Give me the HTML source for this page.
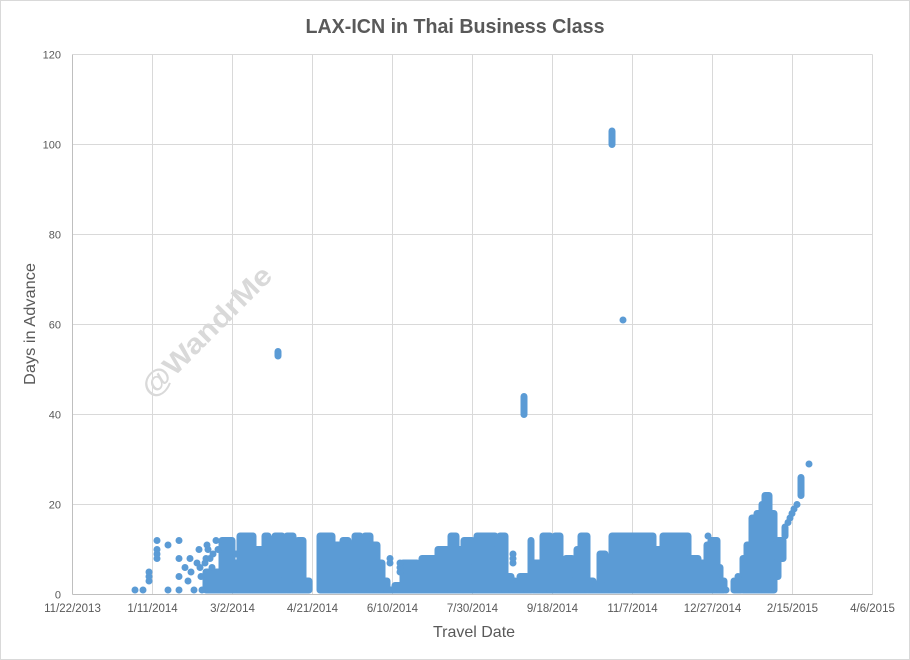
<!DOCTYPE html>
<html>
<head>
<meta charset="utf-8">
<style>
html,body{margin:0;padding:0;background:#fff;}
svg{display:block;}
text{font-family:"Liberation Sans",sans-serif;}
</style>
</head>
<body>
<svg width="910" height="660" viewBox="0 0 910 660" xmlns="http://www.w3.org/2000/svg">
<rect x="0" y="0" width="910" height="660" fill="#fff"/>
<rect x="0.5" y="0.5" width="909" height="659" fill="none" stroke="#d9d9d9"/>
<text x="455" y="33" text-anchor="middle" font-size="20" font-weight="bold" fill="#595959" textLength="299" lengthAdjust="spacingAndGlyphs">LAX-ICN in Thai Business Class</text>
<g stroke="#d9d9d9" stroke-width="1">
<line x1="72.5" y1="54.5" x2="872.5" y2="54.5"/>
<line x1="72.5" y1="144.5" x2="872.5" y2="144.5"/>
<line x1="72.5" y1="234.5" x2="872.5" y2="234.5"/>
<line x1="72.5" y1="324.5" x2="872.5" y2="324.5"/>
<line x1="72.5" y1="414.5" x2="872.5" y2="414.5"/>
<line x1="72.5" y1="504.5" x2="872.5" y2="504.5"/>
<line x1="152.5" y1="54.5" x2="152.5" y2="594.5"/>
<line x1="232.5" y1="54.5" x2="232.5" y2="594.5"/>
<line x1="312.5" y1="54.5" x2="312.5" y2="594.5"/>
<line x1="392.5" y1="54.5" x2="392.5" y2="594.5"/>
<line x1="472.5" y1="54.5" x2="472.5" y2="594.5"/>
<line x1="552.5" y1="54.5" x2="552.5" y2="594.5"/>
<line x1="632.5" y1="54.5" x2="632.5" y2="594.5"/>
<line x1="712.5" y1="54.5" x2="712.5" y2="594.5"/>
<line x1="792.5" y1="54.5" x2="792.5" y2="594.5"/>
<line x1="872.5" y1="54.5" x2="872.5" y2="594.5"/>
</g>
<g stroke="#bfbfbf" stroke-width="1">
<line x1="72.5" y1="54.5" x2="72.5" y2="594.5"/>
<line x1="72.5" y1="594.5" x2="872.5" y2="594.5"/>
</g>
<g transform="translate(206,331) rotate(-45)">
<text x="0" y="10" text-anchor="middle" font-size="28" font-weight="bold" fill="#d9d9d9" textLength="172" lengthAdjust="spacingAndGlyphs">@WandrMe</text>
</g>
<g font-size="11" fill="#595959" text-anchor="end">
<text x="61" y="598.5">0</text>
<text x="61" y="508.5">20</text>
<text x="61" y="418.5">40</text>
<text x="61" y="328.5">60</text>
<text x="61" y="238.5">80</text>
<text x="61" y="148.5">100</text>
<text x="61" y="58.5">120</text>
</g>
<g font-size="11.5" fill="#595959" text-anchor="middle">
<text x="72.5" y="612">11/22/2013</text>
<text x="152.5" y="612">1/11/2014</text>
<text x="232.5" y="612">3/2/2014</text>
<text x="312.5" y="612">4/21/2014</text>
<text x="392.5" y="612">6/10/2014</text>
<text x="472.5" y="612">7/30/2014</text>
<text x="552.5" y="612">9/18/2014</text>
<text x="632.5" y="612">11/7/2014</text>
<text x="712.5" y="612">12/27/2014</text>
<text x="792.5" y="612">2/15/2015</text>
<text x="872.5" y="612">4/6/2015</text>
</g>
<text x="474" y="637" text-anchor="middle" font-size="16" fill="#595959">Travel Date</text>
<text transform="translate(35,324) rotate(-90)" x="0" y="0" text-anchor="middle" font-size="16" fill="#595959" textLength="122" lengthAdjust="spacingAndGlyphs">Days in Advance</text>
<g fill="#5b9bd5">
<rect x="202.5" y="568.5" width="22" height="25" rx="3.5"/>
<rect x="218.5" y="537" width="17" height="56.5" rx="3.5"/>
<rect x="229.5" y="559.5" width="14" height="34" rx="3.5"/>
<rect x="236.5" y="532.5" width="20" height="61" rx="3.5"/>
<rect x="249.5" y="546" width="16" height="47.5" rx="3.5"/>
<rect x="258.5" y="564" width="10" height="29.5" rx="3.5"/>
<rect x="261.5" y="532.5" width="10" height="61" rx="3.5"/>
<rect x="264.5" y="555" width="11" height="38.5" rx="3.5"/>
<rect x="268.5" y="577.5" width="10" height="16" rx="3.5"/>
<rect x="271.5" y="532.5" width="14" height="61" rx="3.5"/>
<rect x="278.5" y="577.5" width="11" height="16" rx="3.5"/>
<rect x="283.5" y="532.5" width="13" height="61" rx="3.5"/>
<rect x="289.5" y="582" width="11" height="11.5" rx="3.5"/>
<rect x="294.5" y="537" width="12" height="56.5" rx="3.5"/>
<rect x="299.5" y="577.5" width="13" height="16" rx="3.5"/>
<rect x="316.5" y="532.5" width="19" height="61" rx="3.5"/>
<rect x="328.5" y="541.5" width="15" height="52" rx="3.5"/>
<rect x="336.5" y="577.5" width="10" height="16" rx="3.5"/>
<rect x="339.5" y="537" width="12" height="56.5" rx="3.5"/>
<rect x="344.5" y="582" width="13" height="11.5" rx="3.5"/>
<rect x="351.5" y="532.5" width="12" height="61" rx="3.5"/>
<rect x="356.5" y="568.5" width="12" height="25" rx="3.5"/>
<rect x="361.5" y="532.5" width="12" height="61" rx="3.5"/>
<rect x="366.5" y="541.5" width="14" height="52" rx="3.5"/>
<rect x="373.5" y="559.5" width="12" height="34" rx="3.5"/>
<rect x="378.5" y="577.5" width="12" height="16" rx="3.5"/>
<rect x="383.5" y="586.5" width="15" height="7" rx="3.5"/>
<rect x="391.5" y="582" width="15" height="11.5" rx="3.5"/>
<rect x="399.5" y="559.5" width="21" height="34" rx="3.5"/>
<rect x="413.5" y="568.5" width="12" height="25" rx="3.5"/>
<rect x="418.5" y="555" width="23" height="38.5" rx="3.5"/>
<rect x="434.5" y="546" width="17" height="47.5" rx="3.5"/>
<rect x="444.5" y="555" width="10" height="38.5" rx="3.5"/>
<rect x="447.5" y="532.5" width="12" height="61" rx="3.5"/>
<rect x="452.5" y="546" width="15" height="47.5" rx="3.5"/>
<rect x="460.5" y="537" width="15" height="56.5" rx="3.5"/>
<rect x="468.5" y="564" width="12" height="29.5" rx="3.5"/>
<rect x="473.5" y="532.5" width="25" height="61" rx="3.5"/>
<rect x="491.5" y="546" width="12" height="47.5" rx="3.5"/>
<rect x="496.5" y="532.5" width="12" height="61" rx="3.5"/>
<rect x="501.5" y="573" width="13" height="20.5" rx="3.5"/>
<rect x="508.5" y="577.5" width="10" height="16" rx="3.5"/>
<rect x="511.5" y="582" width="12" height="11.5" rx="3.5"/>
<rect x="516.5" y="573" width="14" height="20.5" rx="3.5"/>
<rect x="523.5" y="577.5" width="11" height="16" rx="3.5"/>
<rect x="527.5" y="537" width="7" height="56.5" rx="3.5"/>
<rect x="529.5" y="559.5" width="17" height="34" rx="3.5"/>
<rect x="539.5" y="532.5" width="14" height="61" rx="3.5"/>
<rect x="546.5" y="573" width="11" height="20.5" rx="3.5"/>
<rect x="551.5" y="532.5" width="12" height="61" rx="3.5"/>
<rect x="556.5" y="559.5" width="13" height="34" rx="3.5"/>
<rect x="562.5" y="555" width="13" height="38.5" rx="3.5"/>
<rect x="569.5" y="577.5" width="11" height="16" rx="3.5"/>
<rect x="573.5" y="546" width="11" height="47.5" rx="3.5"/>
<rect x="577.5" y="532.5" width="13" height="61" rx="3.5"/>
<rect x="584.5" y="577.5" width="12" height="16" rx="3.5"/>
<rect x="589.5" y="586.5" width="14" height="7" rx="3.5"/>
<rect x="596.5" y="550.5" width="12" height="43" rx="3.5"/>
<rect x="601.5" y="582" width="14" height="11.5" rx="3.5"/>
<rect x="608.5" y="532.5" width="48" height="61" rx="3.5"/>
<rect x="649.5" y="546" width="17" height="47.5" rx="3.5"/>
<rect x="659.5" y="532.5" width="32" height="61" rx="3.5"/>
<rect x="684.5" y="555" width="17" height="38.5" rx="3.5"/>
<rect x="694.5" y="559.5" width="16" height="34" rx="3.5"/>
<rect x="703.5" y="541.5" width="10" height="52" rx="3.5"/>
<rect x="707.5" y="537" width="13" height="56.5" rx="3.5"/>
<rect x="713.5" y="564" width="10" height="29.5" rx="3.5"/>
<rect x="716.5" y="577.5" width="11" height="16" rx="3.5"/>
<rect x="730.5" y="577.5" width="14" height="16" rx="3.5"/>
<rect x="739.5" y="555" width="11" height="38.5" rx="3.5"/>
<rect x="743.5" y="541.5" width="12" height="52" rx="3.5"/>
<rect x="748.5" y="514.5" width="12" height="79" rx="3.5"/>
<rect x="753.5" y="510" width="12" height="83.5" rx="3.5"/>
<rect x="758.5" y="501" width="10" height="92.5" rx="3.5"/>
<rect x="761.5" y="492" width="11" height="101.5" rx="3.5"/>
<rect x="765.5" y="510" width="12" height="83.5" rx="3.5"/>
<rect x="770.5" y="541.5" width="11" height="38.5" rx="3.5"/>
<rect x="774.5" y="537" width="12" height="25" rx="3.5"/>
<rect x="781.5" y="523.5" width="7" height="16" rx="3.5"/>
<rect x="797.5" y="474" width="7" height="25" rx="3.5"/>
<rect x="274.5" y="348" width="7" height="11.5" rx="3.5"/>
<rect x="520.5" y="393" width="7" height="25" rx="3.5"/>
<rect x="608.5" y="127.5" width="7" height="20.5" rx="3.5"/>
<circle cx="623" cy="320" r="3.5"/>
<circle cx="809" cy="464" r="3.5"/>
<circle cx="738" cy="576.5" r="3.5"/>
<circle cx="708" cy="536" r="3.5"/>
<circle cx="724" cy="585.5" r="3.5"/>
<circle cx="726" cy="590" r="3.5"/>
<circle cx="788" cy="522.5" r="3.5"/>
<circle cx="790" cy="518" r="3.5"/>
<circle cx="792" cy="513.5" r="3.5"/>
<circle cx="794" cy="509" r="3.5"/>
<circle cx="797" cy="504.5" r="3.5"/>
<circle cx="390" cy="563" r="3.5"/>
<circle cx="390" cy="558.5" r="3.5"/>
<circle cx="400" cy="572" r="3.5"/>
<circle cx="400" cy="567.5" r="3.5"/>
<circle cx="400" cy="563" r="3.5"/>
<circle cx="513" cy="563" r="3.5"/>
<circle cx="513" cy="558.5" r="3.5"/>
<circle cx="513" cy="554" r="3.5"/>
<circle cx="135" cy="590" r="3.5"/>
<circle cx="143" cy="590" r="3.5"/>
<circle cx="149" cy="581" r="3.5"/>
<circle cx="149" cy="576.5" r="3.5"/>
<circle cx="149" cy="572" r="3.5"/>
<circle cx="157" cy="558.5" r="3.5"/>
<circle cx="157" cy="554" r="3.5"/>
<circle cx="157" cy="549.5" r="3.5"/>
<circle cx="157" cy="540.5" r="3.5"/>
<circle cx="168" cy="545" r="3.5"/>
<circle cx="168" cy="590" r="3.5"/>
<circle cx="179" cy="540.5" r="3.5"/>
<circle cx="179" cy="558.5" r="3.5"/>
<circle cx="179" cy="576.5" r="3.5"/>
<circle cx="179" cy="590" r="3.5"/>
<circle cx="185" cy="567.5" r="3.5"/>
<circle cx="188" cy="581" r="3.5"/>
<circle cx="190" cy="558.5" r="3.5"/>
<circle cx="191" cy="572" r="3.5"/>
<circle cx="194" cy="590" r="3.5"/>
<circle cx="197" cy="563" r="3.5"/>
<circle cx="199" cy="549.5" r="3.5"/>
<circle cx="200" cy="567.5" r="3.5"/>
<circle cx="201" cy="576.5" r="3.5"/>
<circle cx="202" cy="590" r="3.5"/>
<circle cx="205" cy="563" r="3.5"/>
<circle cx="207" cy="545" r="3.5"/>
<circle cx="208" cy="549.5" r="3.5"/>
<circle cx="206" cy="558.5" r="3.5"/>
<circle cx="210" cy="558.5" r="3.5"/>
<circle cx="212" cy="567.5" r="3.5"/>
<circle cx="213" cy="554" r="3.5"/>
<circle cx="216" cy="540.5" r="3.5"/>
<circle cx="218" cy="549.5" r="3.5"/>
<circle cx="236" cy="554" r="3.5"/>
</g>
</svg>
</body>
</html>
